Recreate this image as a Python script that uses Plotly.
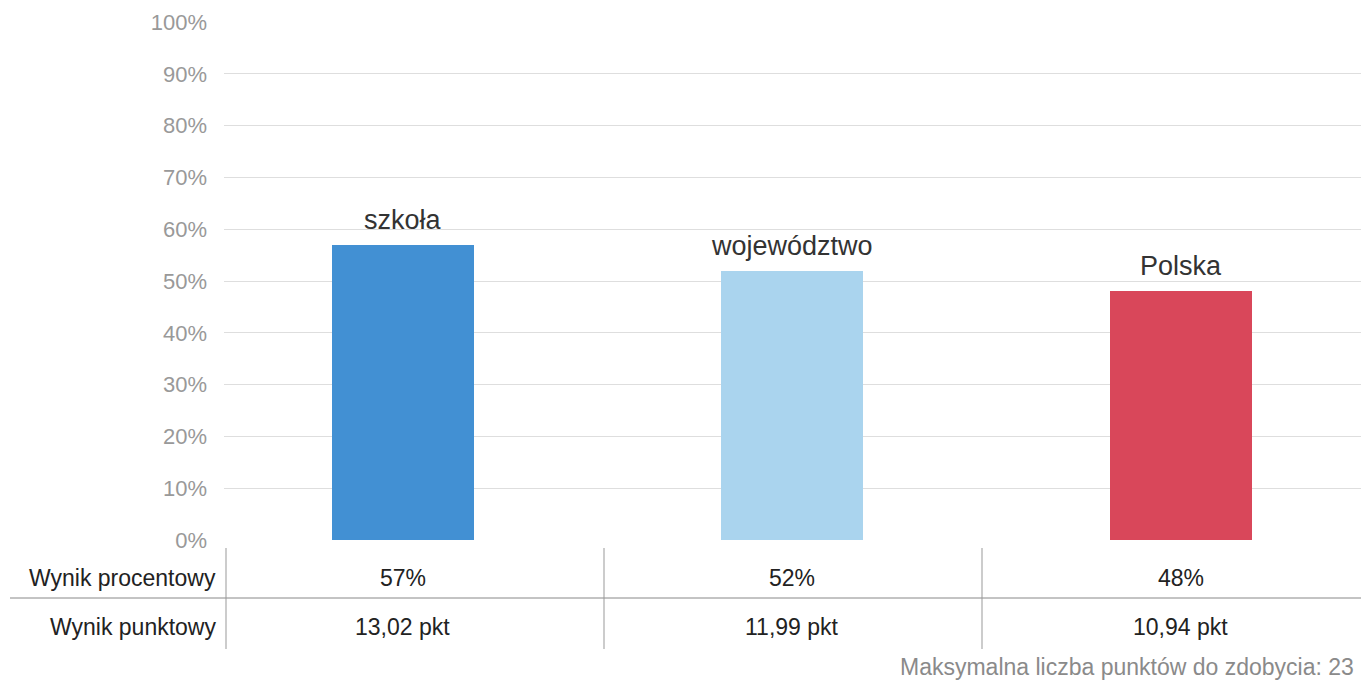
import plotly.graph_objects as go

# Data
categories = ["szkoła", "województwo", "Polska"]
percent_values = [57, 52, 48]
point_values = ["13,02 pkt", "11,99 pkt", "10,94 pkt"]
percent_labels = ["57%", "52%", "48%"]
row_labels = ["Wynik procentowy", "Wynik punktowy"]
y_ticks = list(range(0, 101, 10))
max_points_note = "Maksymalna liczba punktów do zdobycia: 23"

bar_colors = ["#4290d3", "#aad4ee", "#d9475a"]

W, H = 1361, 686
M_L, M_R, M_T, M_B = 224, 0, 22, 146

positions = list(range(len(categories)))

fig = go.Figure()
fig.add_trace(go.Bar(
    x=positions,
    y=percent_values,
    width=0.367,
    marker=dict(color=bar_colors, line=dict(width=0)),
    hoverinfo="skip",
))

FONT = "Liberation Sans, Arial, Helvetica, sans-serif"

# Category labels above bars
for i, (cat, v) in enumerate(zip(categories, percent_values)):
    fig.add_annotation(
        x=i, y=v, xref="x", yref="y", text=cat, showarrow=False,
        yanchor="bottom", yshift=8,
        font=dict(family=FONT, size=27, color="#333333"),
    )

# Table below the chart (pixel -> paper conversion for y)
def px_x(p):
    return (p - M_L) / (W - M_L - M_R)

def px_y(p):
    return (H - M_B - p) / (H - M_T - M_B)

col_edges = [226, 604, 982]
row_y = [578, 627]

for r, label in enumerate(row_labels):
    fig.add_annotation(
        x=px_x(218), y=px_y(row_y[r]), xref="paper", yref="paper",
        text=label, showarrow=False, xanchor="right", yanchor="middle",
        font=dict(family=FONT, size=23, color="#222222"),
    )

# Table cells are centred under their bars
for c in positions:
    fig.add_annotation(
        x=c, y=px_y(row_y[0]), xref="x", yref="paper",
        text=percent_labels[c], showarrow=False, xanchor="center", yanchor="middle",
        font=dict(family=FONT, size=23, color="#222222"),
    )
    fig.add_annotation(
        x=c, y=px_y(row_y[1]), xref="x", yref="paper",
        text=point_values[c], showarrow=False, xanchor="center", yanchor="middle",
        font=dict(family=FONT, size=23, color="#222222"),
    )

# Horizontal separator between rows
fig.add_shape(
    type="line", xref="paper", yref="paper",
    x0=px_x(10), x1=px_x(1361), y0=px_y(598), y1=px_y(598),
    line=dict(color="#888888", width=1),
)
# Vertical column separators
for xe in col_edges:
    fig.add_shape(
        type="line", xref="paper", yref="paper",
        x0=px_x(xe), x1=px_x(xe), y0=px_y(548), y1=px_y(649),
        line=dict(color="#999999", width=1),
    )

# Footnote
fig.add_annotation(
    x=px_x(1356), y=px_y(667), xref="paper", yref="paper",
    text=max_points_note, showarrow=False, xanchor="right", yanchor="middle",
    font=dict(family=FONT, size=23, color="#8a8a8a"),
)

fig.update_layout(
    width=W, height=H,
    margin=dict(l=M_L, r=M_R, t=M_T, b=M_B, pad=0),
    paper_bgcolor="white", plot_bgcolor="white",
    showlegend=False,
    bargap=0,
    xaxis=dict(
        range=[-0.46, 2.463], showticklabels=False, showgrid=False,
        zeroline=False, showline=False, ticks="", fixedrange=True,
    ),
    yaxis=dict(
        range=[0, 100], tickvals=y_ticks,
        ticktext=[f"{t}%" for t in y_ticks],
        showgrid=True, gridcolor="#dedede", gridwidth=1,
        zeroline=False, showline=False, ticks="",
        ticklabelstandoff=16,
        tickfont=dict(family=FONT, size=22, color="#999999"),
        fixedrange=True,
    ),
)

fig.write_html("out.html")
